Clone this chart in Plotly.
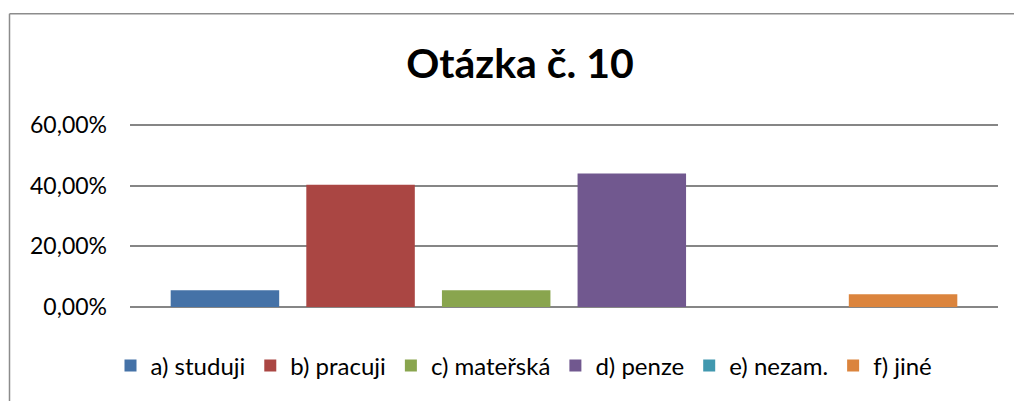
import plotly.graph_objects as go

categories = ["a) studuji", "b) pracuji", "c) mateřská", "d) penze", "e) nezam.", "f) jiné"]
values = [0.0556, 0.4028, 0.0556, 0.4400, 0.0, 0.0417]
colors = ["#4572A7", "#AA4643", "#89A54E", "#71588F", "#4198AF", "#DB843D"]
y_ticks = [0, 0.2, 0.4, 0.6]
title_text = "Otázka č. 10"

FONT = "Lato, 'Liberation Sans', sans-serif"

fig = go.Figure()
for cat, val, col in zip(categories, values, colors):
    fig.add_trace(go.Bar(x=[cat], y=[val], name=cat, marker=dict(color=col, line=dict(width=0)),
                         width=0.8, hoverinfo="y"))

W, H = 1014, 401
L, R, T, B = 130, 16, 124, 92
pw, ph = W - L - R, H - T - B

def px_x(x):
    return (x - L) / pw

def px_y(y):
    return (H - B - y) / ph

fig.update_layout(
    width=W, height=H,
    margin=dict(l=L, r=R, t=T, b=B),
    paper_bgcolor="white", plot_bgcolor="white",
    separators=",.",
    barmode="overlay",
    font=dict(family=FONT, color="#000000"),
    title=dict(text="<b>" + title_text + "</b>", font=dict(size=41, family=FONT, color="#000"),
               x=px_x(520), xref="paper", xanchor="center",
               y=1 - 63.5 / H, yref="container", yanchor="middle"),
    xaxis=dict(categoryorder="array", categoryarray=categories, range=[-0.70, 5.70],
               showticklabels=False, showgrid=False, zeroline=False, showline=False, ticks=""),
    yaxis=dict(range=[0, 0.6035], tickvals=y_ticks, tickformat=".2%", showgrid=True,
               gridcolor="#868686", gridwidth=1.5, zeroline=True, zerolinecolor="#868686",
               zerolinewidth=1.5, showline=False, ticks="", ticklabelstandoff=22,
               tickfont=dict(size=23, family=FONT, color="#000")),
    legend=dict(orientation="h", x=px_x(524), xanchor="center", y=px_y(368.5), yanchor="middle",
                font=dict(size=24, family=FONT, color="#000"), bgcolor="rgba(0,0,0,0)",
                traceorder="normal"),
    showlegend=True,
)

fig.add_shape(type="line", xref="paper", yref="paper", x0=px_x(9.5), x1=px_x(9.5),
              y0=px_y(12.5), y1=px_y(H + 5), line=dict(color="#8c8c8c", width=1.5))
fig.add_shape(type="line", xref="paper", yref="paper", x0=px_x(9.5), x1=px_x(W + 5),
              y0=px_y(12.5), y1=px_y(12.5), line=dict(color="#8c8c8c", width=1.5))

fig.write_html("out.html", config={"displayModeBar": False},
               post_script="document.body.style.margin='0px';")
